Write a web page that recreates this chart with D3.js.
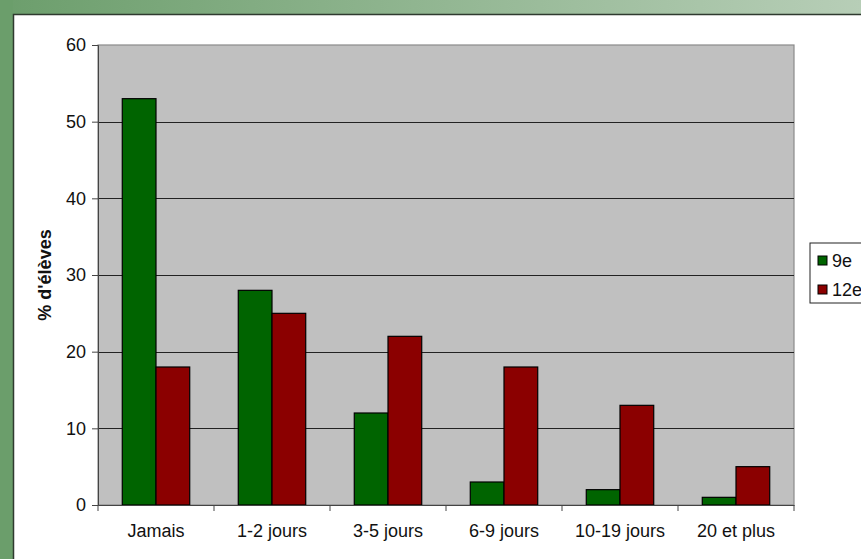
<!DOCTYPE html>
<html>
<head>
<meta charset="utf-8">
<script src="https://cdn.jsdelivr.net/npm/d3@7"></script>
<style>
  body { margin: 0; overflow: hidden; background: #fff; }
  svg { display: block; font-family: "Liberation Sans", Arial, sans-serif; }
</style>
</head>
<body>
<div id="chart"></div>
<script>
// data
const categories = ["Jamais", "1-2 jours", "3-5 jours", "6-9 jours", "10-19 jours", "20 et plus"];
const seriesNames = ["9e", "12e"];
const values9e = [53, 28, 12, 3, 2, 1];
const values12e = [18, 25, 22, 18, 13, 5];
const yTicks = [0, 10, 20, 30, 40, 50, 60];

const colors = {"9e": "#006400", "12e": "#8b0000"};
const fontSize = 18;

const W = 861, H = 559;
const margin = {top: 45, right: 66, bottom: 54, left: 98};

const svg = d3.select("#chart").append("svg")
    .attr("width", W)
    .attr("height", H);

// green slide frame
const defs = svg.append("defs");
const grad = defs.append("linearGradient").attr("id", "topGrad");
grad.append("stop").attr("offset", "0%").attr("stop-color", "#6c9e6c");
grad.append("stop").attr("offset", "100%").attr("stop-color", "#b7ceb7");

svg.append("rect").attr("width", W).attr("height", H).attr("fill", "#fff");
svg.append("rect").attr("width", W).attr("height", 14).attr("fill", "url(#topGrad)");
svg.append("rect").attr("width", 13).attr("height", H).attr("fill", "#6b9e6b");
svg.append("path")
    .attr("d", `M13.5,${H} V14.5 H${W}`)
    .attr("fill", "none")
    .attr("stroke", "#2f3a2f")
    .attr("stroke-width", 1.5);

const x = d3.scaleBand()
    .domain(categories)
    .range([margin.left, W - margin.right - 1]);

const x1 = d3.scaleBand()
    .domain(seriesNames)
    .range([0, x.bandwidth()])
    .paddingOuter(0.72)
    .paddingInner(0);

const y = d3.scaleLinear()
    .domain([0, 60])
    .range([H - margin.bottom, margin.top]);

// plot background
svg.append("rect")
    .attr("x", margin.left)
    .attr("y", margin.top)
    .attr("width", x.range()[1] - margin.left)
    .attr("height", y(0) - margin.top)
    .attr("fill", "#c0c0c0")
    .attr("stroke", "#8a8a8a")
    .attr("stroke-width", 1.2);

// gridlines
svg.append("g")
    .selectAll("line")
    .data(yTicks.filter(d => d > 0 && d < 60))
    .join("line")
    .attr("x1", margin.left)
    .attr("x2", x.range()[1])
    .attr("y1", d => Math.round(y(d)) + 0.5)
    .attr("y2", d => Math.round(y(d)) + 0.5)
    .attr("stroke", "#222")
    .attr("stroke-width", 1);

// bars
const rows = categories.map((c, i) => ({cat: c, vals: [
    {name: "9e", v: values9e[i]},
    {name: "12e", v: values12e[i]}
]}));

svg.append("g")
    .selectAll("g")
    .data(rows)
    .join("g")
    .attr("transform", d => `translate(${x(d.cat)},0)`)
    .selectAll("rect")
    .data(d => d.vals)
    .join("rect")
    .attr("x", d => x1(d.name))
    .attr("y", d => y(d.v))
    .attr("width", x1.bandwidth())
    .attr("height", d => y(0) - y(d.v))
    .attr("fill", d => colors[d.name])
    .attr("stroke", "#000")
    .attr("stroke-width", 1.2);

// y axis
const yAxis = svg.append("g")
    .attr("transform", `translate(${margin.left},0)`)
    .call(d3.axisLeft(y).tickValues(yTicks).tickSize(6).tickPadding(6));
yAxis.select(".domain").attr("stroke", "#444");
yAxis.selectAll(".tick line").attr("stroke", "#444");
yAxis.selectAll("text").attr("font-size", fontSize).attr("fill", "#111")
    .attr("font-family", "Liberation Sans, Arial, sans-serif");

// x axis
const xAxis = svg.append("g")
    .attr("transform", `translate(0,${y(0)})`)
    .call(d3.axisBottom(x).tickSize(0).tickPadding(19));
xAxis.select(".domain").attr("stroke", "#444");
xAxis.selectAll("text").attr("font-size", fontSize).attr("fill", "#111")
    .attr("font-family", "Liberation Sans, Arial, sans-serif");

// category separators on x axis
svg.append("g")
    .selectAll("line")
    .data(categories.concat(["end"]))
    .join("line")
    .attr("x1", (d, i) => i < categories.length ? x(d) : x.range()[1])
    .attr("x2", (d, i) => i < categories.length ? x(d) : x.range()[1])
    .attr("y1", y(0))
    .attr("y2", y(0) + 6)
    .attr("stroke", "#444");

// y title
svg.append("text")
    .attr("transform", `translate(51,${(margin.top + y(0)) / 2}) rotate(-90)`)
    .attr("text-anchor", "middle")
    .attr("font-size", fontSize)
    .attr("font-weight", "bold")
    .attr("fill", "#111")
    .text("% d'élèves");

// legend (runs off the right edge)
const legend = svg.append("g").attr("transform", "translate(810,243)");
legend.append("rect")
    .attr("width", 70)
    .attr("height", 60)
    .attr("fill", "#fff")
    .attr("stroke", "#222");

legend.selectAll("g")
    .data(seriesNames)
    .join("g")
    .attr("transform", (d, i) => `translate(8,${13 + i * 29})`)
    .call(g => g.append("rect")
        .attr("width", 9)
        .attr("height", 9)
        .attr("fill", d => colors[d])
        .attr("stroke", "#000"))
    .call(g => g.append("text")
        .attr("x", 14)
        .attr("y", 11)
        .attr("font-size", fontSize)
        .attr("fill", "#111")
        .text(d => d));
</script>
</body>
</html>
